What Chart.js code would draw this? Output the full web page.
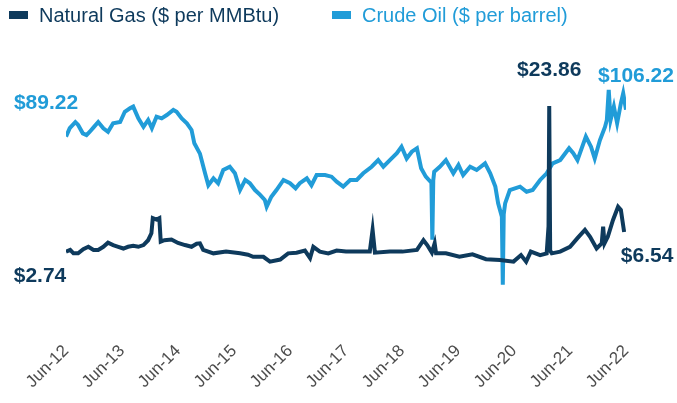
<!DOCTYPE html>
<html>
<head>
<meta charset="utf-8">
<script src="https://cdn.jsdelivr.net/npm/chart.js@4/dist/chart.umd.min.js"></script>
<style>
  html, body { margin: 0; padding: 0; background: #ffffff; }
  #wrap { width: 677px; height: 403px; }
</style>
</head>
<body>
<div id="wrap"><canvas id="priceChart" width="677" height="403"></canvas></div>
<script>
// months counted from Jun-12
var tickLabels = ['Jun-12', 'Jun-13', 'Jun-14', 'Jun-15', 'Jun-16', 'Jun-17',
    'Jun-18', 'Jun-19', 'Jun-20', 'Jun-21', 'Jun-22'];

var gasMonths = [0, 0.9, 1.6, 2.6, 3.7, 4.8, 5.9, 6.9, 8, 9, 10.1, 11.2, 12.3, 13.3, 14.4,
    15.5, 16.6, 17.6, 18.3, 18.6, 19.4, 20, 20.3, 21.1, 22.6, 24, 25.5, 26.9, 28, 28.7,
    29.4, 31.6, 34.3, 37.3, 39, 40.1, 42.3, 43.7, 45.9, 47.6, 49.4, 51.2, 52.3, 53,
    54.4, 56.2, 58, 60, 62.3, 65.1, 65.7, 66.2, 69.4, 72.1, 75.2, 76.6, 77.4, 78.4,
    79, 79.3, 81.4, 84.3, 87.1, 90, 93, 95.9, 97.5, 98.6, 99.6, 101.6, 103, 103.4,
    103.55, 103.75, 104.1, 105.9, 108, 109.6, 111.2, 112.3, 113.7, 114.8, 115.1, 115.4,
    116.1, 117.2, 118.3, 118.9, 119.6];
var gasPrices = [2.74, 3.0, 2.5, 2.5, 3.1, 3.45, 3.0, 3.0, 3.45, 4.05, 3.7, 3.45, 3.2, 3.45, 3.6,
    3.45, 3.7, 4.4, 5.4, 7.6, 7.4, 7.6, 4.2, 4.4, 4.5, 4.0, 3.7, 3.45, 3.9, 3.95,
    3.0, 2.5, 2.75, 2.5, 2.3, 2.0, 2.0, 1.3, 1.6, 2.5, 2.6, 2.9, 1.8, 3.45,
    2.75, 2.5, 2.9, 2.75, 2.75, 2.75, 5.9, 2.6, 2.75, 2.75, 3.0, 4.4, 3.7, 2.6,
    3.95, 2.5, 2.5, 2.0, 2.35, 1.65, 1.55, 1.3, 2.25, 1.3, 2.75, 2.25, 2.5, 6.4,
    23.86, 2.9, 2.5, 2.75, 3.45, 4.7, 5.9, 4.9, 3.2, 3.95, 6.35, 3.95,
    4.9, 7.3, 9.25, 8.8, 5.6];

var oilMonths = [0, 0.8, 2, 2.6, 3.6, 4.4, 5.1, 6, 6.9, 8, 9, 10.1, 11.6, 12.6, 13.7, 14.4,
    15.5, 16.6, 17.6, 18.4, 19.4, 20.5, 21.6, 23, 23.7, 24.8, 25.9, 26.9, 27.5, 28.7,
    29.8, 30.5, 31.6, 32.6, 33.7, 35.1, 36.2, 37.3, 38.4, 39.4, 40.5, 41.6, 42.6, 43,
    44, 45.1, 46.6, 48, 49.2, 50.1, 51.6, 52.6, 53.7, 55.5, 56.9, 58, 59.4, 60.9,
    62.3, 63.7, 65.5, 66.9, 68, 69.4, 70.9, 71.9, 73, 74.1, 75.2, 76.1, 77.1, 78.3,
    78.5, 78.7, 78.9, 80.1, 81.4, 83, 84.1, 85.1, 86.6, 88, 89.8, 90.9, 92, 92.6,
    93.4, 93.6, 93.8, 94.1, 95.1, 97.3, 98.7, 100, 101.6, 103, 104.3, 105.9, 107.8,
    108.7, 109.6, 111.4, 112.5, 113.3, 114.4, 115.5, 115.9, 116.3, 116.7, 117.4,
    118.1, 118.9, 119.4, 120];
var oilPrices = [84, 91, 96, 93.6, 86.7, 85.3, 88, 92, 96, 90.8, 88, 95, 96, 104.5, 107.3, 108.7,
    99, 92, 97.7, 91, 100.4, 99, 101.8, 106, 104.5, 99, 95, 89.5, 78.5, 70,
    53.8, 44, 49.7, 45.6, 56.5, 59.2, 53.8, 40, 48.3, 45.6, 40, 36, 31.8, 26.3,
    34.5, 40, 48.3, 45.6, 41.4, 45.6, 49.7, 44, 52.4, 52.4, 51, 46.9, 42.8, 48.3,
    48.3, 53.8, 59.2, 64.7, 59.2, 64.7, 70.3, 75.7, 66, 71.6, 74.4, 58, 51, 46,
    -1, 48, 55, 59.2, 64.7, 53.8, 60.6, 52.4, 59.2, 56.5, 62, 53.8, 42.8, 29,
    18, -38, 20, 29, 40, 42.8, 38.6, 40, 48.3, 53.8, 62, 64.7, 74.4,
    70.3, 64.7, 84, 75.7, 66, 81, 92, 97.7, 122.4, 97.7, 108.7,
    95, 111.4, 119.7, 106.22];

var gasColor = '#0e3a5c';
var oilColor = '#219cd8';

function toPoints(xs, ys) {
    return xs.map(function (x, i) { return { x: x, y: ys[i] }; });
}

var labelFont = 'bold 21px Arial, "Liberation Sans", sans-serif';

// value callouts: which series, which point, text offset
var callouts = [
    { axis: 'yOil', months: oilMonths, prices: oilPrices, idx: 0, text: '$89.22', color: oilColor, dx: -20, dy: -33 },
    { axis: 'yGas', months: gasMonths, prices: gasPrices, idx: 0, text: '$2.74', color: gasColor, dx: -26, dy: 25 },
    { axis: 'yGas', months: gasMonths, prices: gasPrices, idx: gasPrices.indexOf(23.86), text: '$23.86', color: gasColor, dx: 0, dy: -36 },
    { axis: 'yOil', months: oilMonths, prices: oilPrices, idx: oilPrices.length - 1, text: '$106.22', color: oilColor, dx: 10, dy: -33 },
    { axis: 'yGas', months: gasMonths, prices: gasPrices, idx: gasPrices.length - 1, text: '$6.54', color: gasColor, dx: 23, dy: 24 }
];

var annotatePlugin = {
    id: 'annotate',
    afterDraw: function (chart) {
        var ctx = chart.ctx;
        var xs = chart.scales.x;
        ctx.save();

        // legend
        ctx.font = '20px Arial, "Liberation Sans", sans-serif';
        ctx.textBaseline = 'middle';
        ctx.textAlign = 'left';
        ctx.fillStyle = gasColor;
        ctx.fillRect(9, 11, 19, 8);
        ctx.fillText('Natural Gas ($ per MMBtu)', 39, 16);
        ctx.fillStyle = oilColor;
        ctx.fillRect(332, 11, 19, 8);
        ctx.fillText('Crude Oil ($ per barrel)', 362, 16);

        // callouts
        ctx.font = labelFont;
        ctx.textAlign = 'center';
        callouts.forEach(function (c) {
            var px = xs.getPixelForValue(c.months[c.idx]);
            var py = chart.scales[c.axis].getPixelForValue(c.prices[c.idx]);
            ctx.fillStyle = c.color;
            ctx.fillText(c.text, px + c.dx, py + c.dy);
        });
        ctx.restore();
    }
};

new Chart(document.getElementById('priceChart'), {
    type: 'line',
    data: {
        datasets: [{
            label: 'Natural Gas ($ per MMBtu)',
            data: toPoints(gasMonths, gasPrices),
            borderColor: gasColor,
            borderWidth: 4,
            pointRadius: 0,
            tension: 0,
            yAxisID: 'yGas'
        }, {
            label: 'Crude Oil ($ per barrel)',
            data: toPoints(oilMonths, oilPrices),
            borderColor: oilColor,
            borderWidth: 4,
            pointRadius: 0,
            tension: 0,
            yAxisID: 'yOil'
        }]
    },
    options: {
        responsive: false,
        animation: false,
        layout: {
            padding: { top: 60, left: 66, right: 51, bottom: 0 }
        },
        scales: {
            x: {
                type: 'linear',
                min: 0,
                max: 120,
                grid: { display: false },
                border: { display: false },
                afterFit: function (scale) { scale.height = 63; },
                afterBuildTicks: function (scale) {
                    scale.ticks = tickLabels.map(function (t, i) { return { value: i * 12 }; });
                },
                ticks: {
                    autoSkip: false,
                    minRotation: 45,
                    maxRotation: 45,
                    color: '#4d4d4d',
                    padding: -7,
                    font: { family: 'Arial, "Liberation Sans", sans-serif', size: 17 },
                    callback: function (v) { return tickLabels[Math.round(v / 12)]; }
                }
            },
            yGas: {
                type: 'linear',
                position: 'left',
                display: false,
                min: -10.06,
                max: 30.52
            },
            yOil: {
                type: 'linear',
                position: 'right',
                display: false,
                min: -83.5,
                max: 147.1
            }
        },
        plugins: {
            legend: { display: false },
            tooltip: { enabled: false }
        }
    },
    plugins: [annotatePlugin]
});
</script>
</body>
</html>
